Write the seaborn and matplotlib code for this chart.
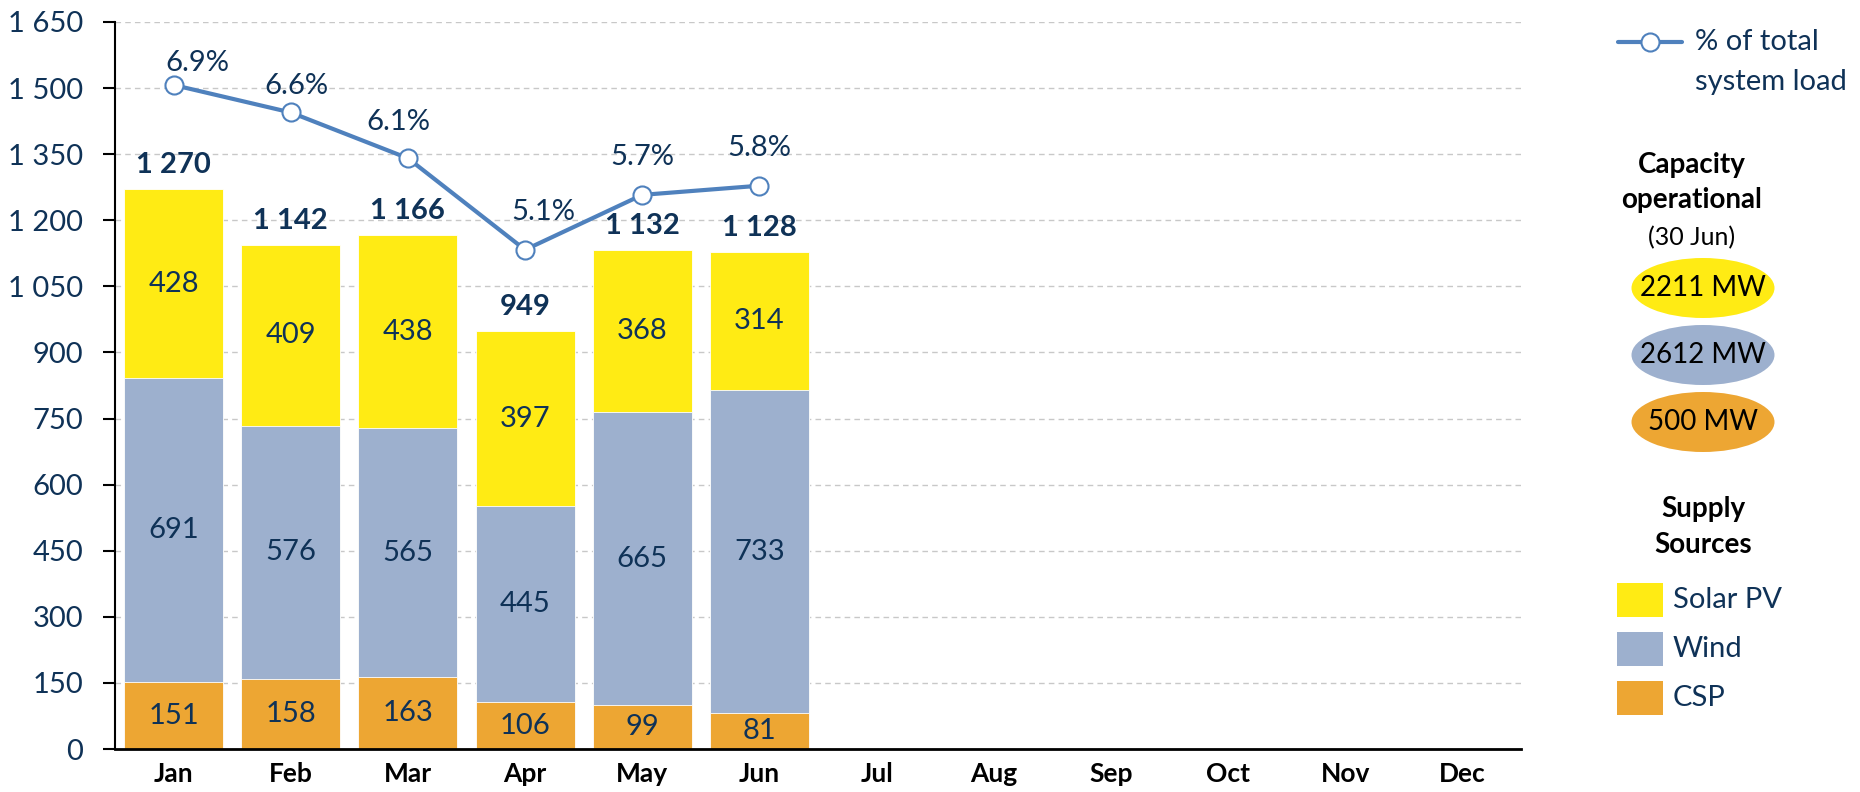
import numpy as np
import pandas as pd
import matplotlib.pyplot as plt
import seaborn as sns
from matplotlib.lines import Line2D
from matplotlib.patches import Ellipse, Rectangle

MONTHS = ["Jan", "Feb", "Mar", "Apr", "May", "Jun",
          "Jul", "Aug", "Sep", "Oct", "Nov", "Dec"]
DATA_MONTHS = ["Jan", "Feb", "Mar", "Apr", "May", "Jun"]
CSP = [151, 158, 163, 106, 99, 81]
WIND = [691, 576, 565, 445, 665, 733]
SOLAR_PV = [428, 409, 438, 397, 368, 314]
TOTALS = [1270, 1142, 1166, 949, 1132, 1128]
PCT_LOAD = [6.9, 6.6, 6.1, 5.1, 5.7, 5.8]
Y_TICKS = [0, 150, 300, 450, 600, 750, 900, 1050, 1200, 1350, 1500, 1650]
CAPACITY = ["2211 MW", "2612 MW", "500 MW"]
SOURCES = ["Solar PV", "Wind", "CSP"]

YELLOW = "#FFEB14"
BLUE_GREY = "#9DB0CE"
ORANGE = "#EDA633"
LINE_BLUE = "#4F81BD"
NAVY = "#0F3257"

W, H = 1860, 792
FS = 21


def fx(px):
    return px / W


def fy(py):
    return 1 - py / H


def thousands(v):
    return f"{v:,}".replace(",", " ")


def draw_bars(ax, df):
    layers = [("solar_top", YELLOW), ("wind_top", BLUE_GREY), ("csp", ORANGE)]
    for col, color in layers:
        sns.barplot(data=df, x="month", y=col, order=MONTHS, color=color,
                    saturation=1, width=0.845, errorbar=None,
                    edgecolor="white", linewidth=0.6, ax=ax)

    for i, row in df.iterrows():
        ax.text(i, row["csp"] / 2, str(row["csp"]), ha="center", va="center",
                fontsize=FS, color=NAVY)
        ax.text(i, row["csp"] + row["wind"] / 2, str(row["wind"]),
                ha="center", va="center", fontsize=FS, color=NAVY)
        ax.text(i, row["wind_top"] + row["solar"] / 2, str(row["solar"]),
                ha="center", va="center", fontsize=FS, color=NAVY)
        ax.annotate(thousands(row["total"]), (i, row["solar_top"]),
                    xytext=(0, 24), textcoords="offset pixels",
                    ha="center", va="center", fontsize=FS,
                    fontweight="bold", color=NAVY)


def draw_line(ax, df):
    ax2 = ax.twinx()
    x = np.arange(len(df))
    sns.lineplot(x=x, y=df["pct"], ax=ax2, color=LINE_BLUE, lw=3,
                 marker="o", markersize=13, markerfacecolor="white",
                 markeredgecolor=LINE_BLUE, markeredgewidth=1.5)
    # first label sits beside the line start, the rest straight above
    offsets = [(24, 22), (6, 26), (-10, 36), (18, 38), (0, 38), (0, 38)]
    for i, v, off in zip(x, df["pct"], offsets):
        ax2.annotate(f"{v:.1f}%", (i, v), xytext=off,
                     textcoords="offset pixels", ha="center", va="center",
                     fontsize=FS, color=NAVY)
    ax2.set_ylim(-0.352, 7.588)
    ax2.axis("off")
    return ax2


def draw_legend(fig):
    fig.add_artist(Line2D([fx(1618), fx(1682)], [fy(42), fy(42)],
                          transform=fig.transFigure, color=LINE_BLUE, lw=3))
    fig.add_artist(Line2D([fx(1650)], [fy(42)], transform=fig.transFigure,
                          marker="o", markersize=13, markerfacecolor="white",
                          markeredgecolor=LINE_BLUE, markeredgewidth=1.5))
    fig.text(fx(1695), fy(42), "% of total", ha="left", va="center",
             fontsize=FS, color=NAVY)
    fig.text(fx(1695), fy(82), "system load", ha="left", va="center",
             fontsize=FS, color=NAVY)

    fig.text(fx(1692), fy(165), "Capacity", ha="center", va="center",
             fontsize=20, fontweight="bold", color="black")
    fig.text(fx(1692), fy(200), "operational", ha="center", va="center",
             fontsize=20, fontweight="bold", color="black")
    fig.text(fx(1692), fy(238), "(30 Jun)", ha="center", va="center",
             fontsize=18, color="black")

    for label, color, py in zip(CAPACITY, [YELLOW, BLUE_GREY, ORANGE],
                                [288, 355, 422]):
        fig.add_artist(Ellipse((fx(1703), fy(py)), 143 / W, 60 / H,
                               transform=fig.transFigure, facecolor=color,
                               edgecolor="none"))
        fig.text(fx(1703), fy(py), label, ha="center", va="center",
                 fontsize=20, color="black")

    fig.text(fx(1703), fy(509), "Supply", ha="center", va="center",
             fontsize=20, fontweight="bold", color="black")
    fig.text(fx(1703), fy(545), "Sources", ha="center", va="center",
             fontsize=20, fontweight="bold", color="black")

    for label, color, py in zip(SOURCES, [YELLOW, BLUE_GREY, ORANGE],
                                [600, 649, 698]):
        fig.add_artist(Rectangle((fx(1617), fy(py + 17)), 46 / W, 34 / H,
                                 transform=fig.transFigure, facecolor=color,
                                 edgecolor="none"))
        fig.text(fx(1673), fy(py), label, ha="left", va="center",
                 fontsize=FS, color=NAVY)


def main():
    sns.set_style("white")
    plt.rcParams["font.family"] = ["Lato", "DejaVu Sans"]

    df = pd.DataFrame({"month": DATA_MONTHS, "csp": CSP, "wind": WIND,
                       "solar": SOLAR_PV, "total": TOTALS, "pct": PCT_LOAD})
    df["wind_top"] = df["csp"] + df["wind"]
    df["solar_top"] = df["wind_top"] + df["solar"]

    fig = plt.figure(figsize=(W / 100, H / 100), dpi=100)
    ax = fig.add_axes([fx(115), 43 / H, 1406 / W, 727 / H])

    draw_bars(ax, df)
    draw_line(ax, df)

    ax.set_xlim(-0.5, len(MONTHS) - 0.5)
    ax.set_ylim(0, 1650)
    ax.set_yticks(Y_TICKS)
    ax.set_yticklabels([thousands(v) for v in Y_TICKS])
    ax.set_xlabel("")
    ax.set_ylabel("")
    ax.set_axisbelow(True)
    ax.yaxis.grid(True, linestyle=(0, (4, 3)), color="#C8C8C8", lw=1)
    ax.xaxis.grid(False)

    ax.tick_params(axis="y", left=True, length=9, width=1.5, color="black",
                   labelsize=FS, labelcolor=NAVY, pad=14)
    ax.tick_params(axis="x", bottom=False, length=0, labelsize=19,
                   labelcolor="black", pad=9)
    for lbl in ax.get_xticklabels():
        lbl.set_fontweight("bold")

    for side in ["top", "right"]:
        ax.spines[side].set_visible(False)
    ax.spines["left"].set_color("black")
    ax.spines["left"].set_linewidth(1.5)
    ax.spines["bottom"].set_color("black")
    ax.spines["bottom"].set_linewidth(2)

    draw_legend(fig)

    fig.savefig("out.png", dpi=100)
    plt.close(fig)


if __name__ == "__main__":
    main()
